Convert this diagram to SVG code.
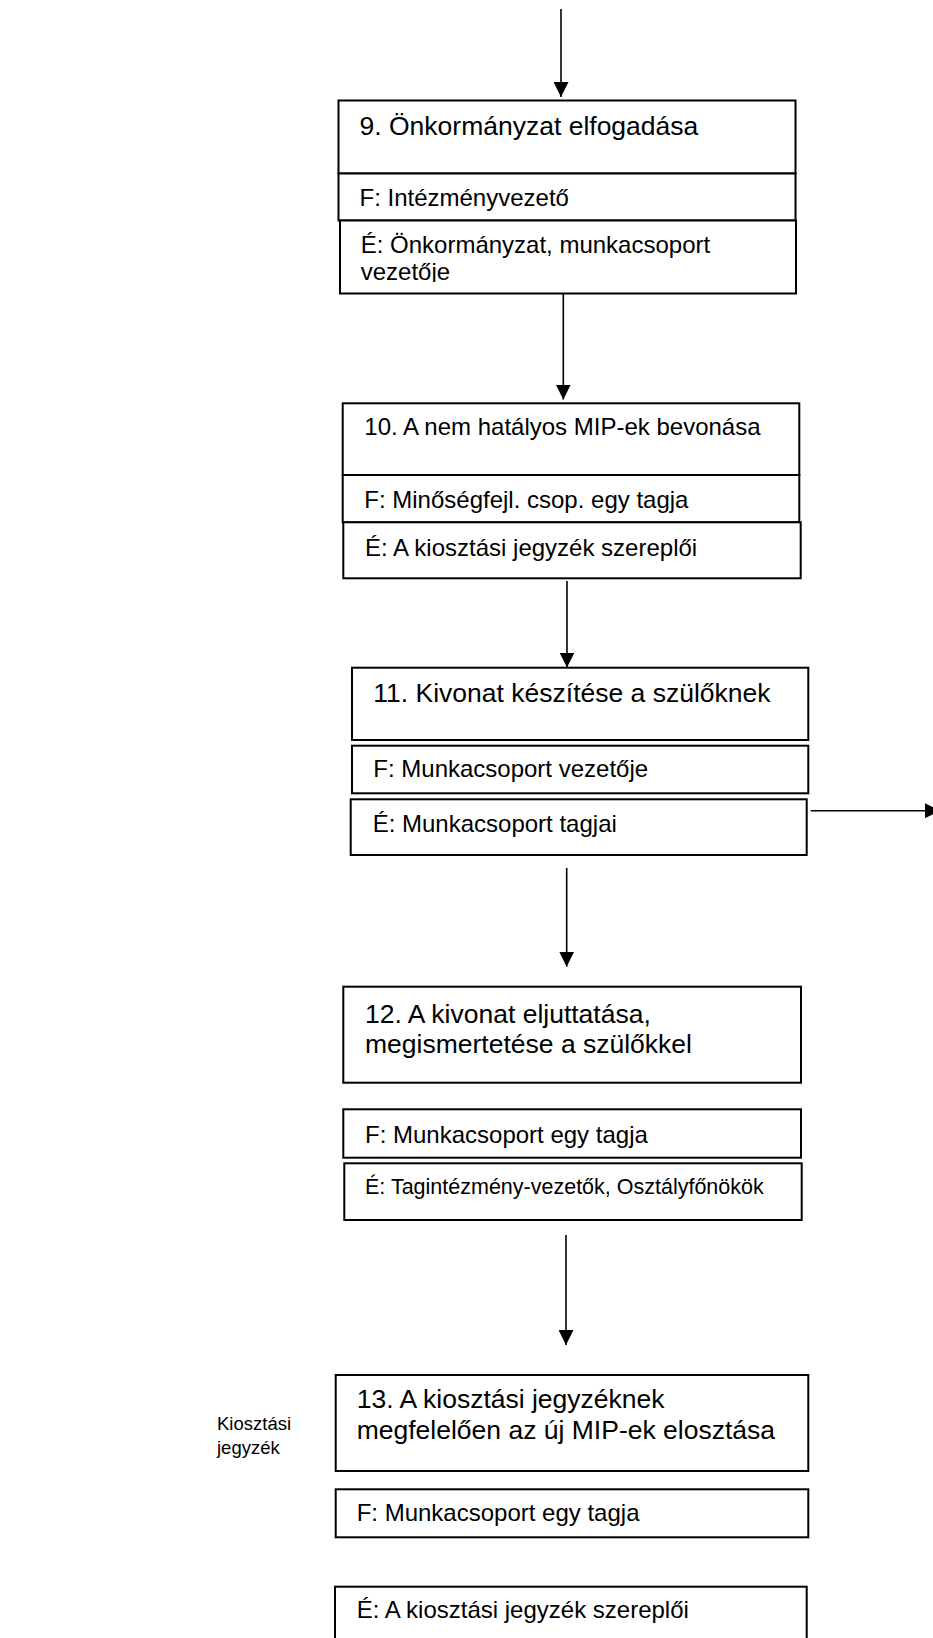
<svg xmlns="http://www.w3.org/2000/svg" width="933" height="1638" viewBox="0 0 933 1638">
  <style>
    .box { fill: #ffffff; stroke: #000000; stroke-width: 2; }
    .flow { stroke: #000000; stroke-width: 1.6; fill: none; }
    .t { font-family: "Liberation Sans", Arial, sans-serif; fill: #000000; }
    .title { font-size: 26.5px; }
    .role { font-size: 24px; }
    .small { font-size: 21.5px; }
    .note { font-size: 18.5px; }
  </style>
  <defs>
    <marker id="arrow" viewBox="0 0 15 15" refX="15" refY="7.5" markerWidth="15" markerHeight="15" markerUnits="userSpaceOnUse" orient="auto">
      <path d="M0,0 L15,7.5 L0,15 Z" fill="#000000"/>
    </marker>
    <clipPath id="clip9e">
      <rect x="340" y="221" width="456" height="61"/>
    </clipPath>
  </defs>
  <rect width="933" height="1638" fill="#ffffff"/>

  <!-- connectors -->
  <g id="connectors">
    <line class="flow" x1="561" y1="9" x2="561" y2="97" marker-end="url(#arrow)"/>
    <line class="flow" x1="563.3" y1="294" x2="563.3" y2="399.5" marker-end="url(#arrow)"/>
    <line class="flow" x1="567" y1="581" x2="567" y2="667.5" marker-end="url(#arrow)"/>
    <line class="flow" x1="810.7" y1="810.7" x2="940" y2="810.7" marker-end="url(#arrow)"/>
    <line class="flow" x1="566.7" y1="868" x2="566.7" y2="966.7" marker-end="url(#arrow)"/>
    <line class="flow" x1="566" y1="1235" x2="566" y2="1345" marker-end="url(#arrow)"/>
  </g>

  <!-- step 9 -->
  <g id="step9">
    <rect class="box" x="338.5" y="100.5" width="457" height="73"/>
    <text class="t title" x="359.5" y="135">9. Önkormányzat elfogadása</text>
    <rect class="box" x="338.5" y="173.5" width="457" height="47"/>
    <text class="t role" x="359.5" y="205.7">F: Intézményvezető</text>
    <rect class="box" x="340" y="220.5" width="456" height="73"/>
    <g clip-path="url(#clip9e)">
      <text class="t role" x="360.7" y="253">É: Önkormányzat, munkacsoport</text>
      <text class="t role" x="360.7" y="280">vezetője</text>
    </g>
  </g>

  <!-- step 10 -->
  <g id="step10">
    <rect class="box" x="342.7" y="403.3" width="456.6" height="71.7"/>
    <text class="t role" x="364.3" y="435">10. A nem hatályos MIP-ek bevonása</text>
    <rect class="box" x="342.7" y="475" width="456.6" height="47.3"/>
    <text class="t role" x="364.3" y="508.3">F: Minőségfejl. csop. egy tagja</text>
    <rect class="box" x="343.3" y="522.3" width="457.4" height="56"/>
    <text class="t role" x="365" y="556">É: A kiosztási jegyzék szereplői</text>
  </g>

  <!-- step 11 -->
  <g id="step11">
    <rect class="box" x="352" y="667.7" width="456.3" height="72.3"/>
    <text class="t title" x="373.3" y="702.3">11. Kivonat készítése a szülőknek</text>
    <rect class="box" x="352" y="745.7" width="456.3" height="47.6"/>
    <text class="t role" x="373.3" y="777.3">F: Munkacsoport vezetője</text>
    <rect class="box" x="350.7" y="799.3" width="456" height="55.7"/>
    <text class="t role" x="372.7" y="831.7">É: Munkacsoport tagjai</text>
  </g>

  <!-- step 12 -->
  <g id="step12">
    <rect class="box" x="343.3" y="986.7" width="457.7" height="96"/>
    <text class="t title" x="365" y="1023.3">12. A kivonat eljuttatása,</text>
    <text class="t title" x="365" y="1052.7">megismertetése a szülőkkel</text>
    <rect class="box" x="343.3" y="1109.3" width="457.7" height="48.4"/>
    <text class="t role" x="365" y="1142.7">F: Munkacsoport egy tagja</text>
    <rect class="box" x="344.3" y="1163.3" width="457.4" height="56.7"/>
    <text class="t small" x="365" y="1194.3">É: Tagintézmény-vezetők, Osztályfőnökök</text>
  </g>

  <!-- step 13 -->
  <g id="step13">
    <rect class="box" x="335.7" y="1375" width="472.6" height="96"/>
    <text class="t title" x="356.7" y="1408.3">13. A kiosztási jegyzéknek</text>
    <text class="t title" x="356.7" y="1439.3">megfelelően az új MIP-ek elosztása</text>
    <rect class="box" x="335.7" y="1489.3" width="472.6" height="48"/>
    <text class="t role" x="356.7" y="1520.7">F: Munkacsoport egy tagja</text>
    <rect class="box" x="335" y="1586.7" width="471.7" height="70"/>
    <text class="t role" x="356.7" y="1618.3">É: A kiosztási jegyzék szereplői</text>
  </g>

  <!-- side note -->
  <g id="note">
    <text class="t note" x="217" y="1430">Kiosztási</text>
    <text class="t note" x="217" y="1454">jegyzék</text>
  </g>
</svg>
